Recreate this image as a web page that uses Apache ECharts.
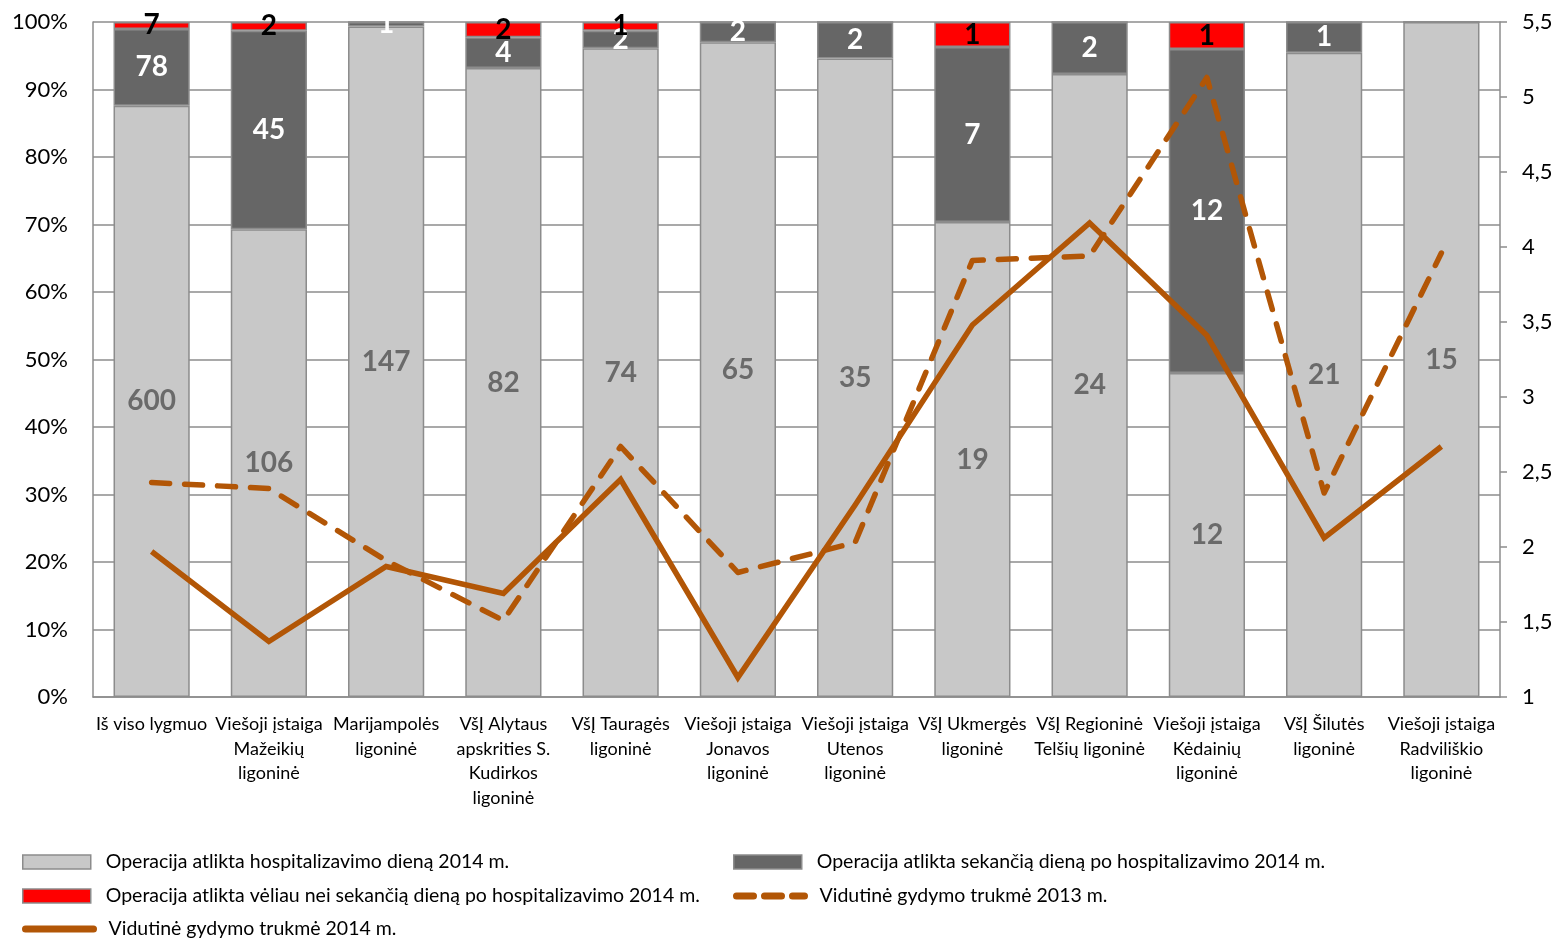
<!DOCTYPE html>
<html>
<head>
<meta charset="utf-8">
<script src="https://cdn.jsdelivr.net/npm/echarts@6/dist/echarts.min.js"></script>
<style>
  html, body { margin: 0; padding: 0; background: #fff; }
  #chart { width: 1560px; height: 938px; }
</style>
</head>
<body>
<div id="chart"></div>
<script>
const categories = [
  "Iš viso lygmuo",
  "Viešoji įstaiga\nMažeikių\nligoninė",
  "Marijampolės\nligoninė",
  "VšĮ Alytaus\napskrities S.\nKudirkos\nligoninė",
  "VšĮ Tauragės\nligoninė",
  "Viešoji įstaiga\nJonavos\nligoninė",
  "Viešoji įstaiga\nUtenos\nligoninė",
  "VšĮ Ukmergės\nligoninė",
  "VšĮ Regioninė\nTelšių ligoninė",
  "Viešoji įstaiga\nKėdainių\nligoninė",
  "VšĮ Šilutės\nligoninė",
  "Viešoji įstaiga\nRadviliškio\nligoninė"
];
// operation counts 2014
const sameDay = [600, 106, 147, 82, 74, 65, 35, 19, 24, 12, 21, 15];
const nextDay = [78, 45, 1, 4, 2, 2, 2, 7, 2, 12, 1, 0];
const later = [7, 2, 0, 2, 1, 0, 0, 1, 0, 1, 0, 0];
// average length of stay
const stay2014 = [1.97, 1.37, 1.87, 1.69, 2.45, 1.13, 2.28, 3.48, 4.16, 3.41, 2.06, 2.67];
const stay2013 = [2.43, 2.39, 1.91, 1.51, 2.67, 1.83, 2.03, 3.91, 3.94, 5.13, 2.36, 3.96];

const names = [
  "Operacija atlikta hospitalizavimo dieną 2014 m.",
  "Operacija atlikta sekančią dieną po hospitalizavimo 2014 m.",
  "Operacija atlikta vėliau nei sekančią dieną po hospitalizavimo 2014 m.",
  "Vidutinė gydymo trukmė 2013 m.",
  "Vidutinė gydymo trukmė 2014 m."
];

const FONT = "Lato";
const LINE_COLOR = "#b25606";
const BORDER = "#8c8c8c";

const totals = sameDay.map((v, i) => v + nextDay[i] + later[i]);
const pct = (arr) => arr.map((v, i) => (v / totals[i]) * 100);

function barSeries(name, counts, color, labelColor) {
  return {
    name: name,
    type: "bar",
    stack: "ops",
    yAxisIndex: 0,
    barCategoryGap: "35%",
    data: pct(counts),
    itemStyle: { color: color, borderColor: BORDER, borderWidth: 1.5 },
    label: {
      show: true,
      position: "inside",
      offset: [0, 2],
      fontFamily: FONT,
      fontWeight: "bold",
      fontSize: 28,
      color: labelColor,
      formatter: (p) => (counts[p.dataIndex] > 0 ? String(counts[p.dataIndex]) : "")
    },
    labelLayout: { hideOverlap: false },
    emphasis: { disabled: true },
    z: 2
  };
}

// one legend per entry so the two columns line up like the original
function legendItem(item, left, centerY) {
  return {
    left: left,
    top: centerY - 9,
    padding: 0,
    itemWidth: 68,
    itemHeight: 14,
    textStyle: { fontSize: 19.5, color: "#000", fontFamily: FONT, padding: [0, 0, 0, 10] },
    data: [item]
  };
}
const hiddenDot = { color: "rgba(0,0,0,0)", borderWidth: 0, opacity: 0 };

const chart = echarts.init(document.getElementById("chart"));
chart.setOption({
  animation: false,
  textStyle: { fontFamily: FONT },
  grid: { left: 93, right: 60, top: 22, bottom: 241, containLabel: false },
  legend: [
    legendItem({ name: names[0], icon: "rect", itemStyle: { borderColor: BORDER, borderWidth: 1.5 } }, 22, 861),
    legendItem({ name: names[1], icon: "rect", itemStyle: { borderColor: BORDER, borderWidth: 1.5 } }, 733, 861),
    legendItem({ name: names[2], icon: "rect", itemStyle: { borderColor: BORDER, borderWidth: 1.5 } }, 22, 895),
    legendItem({ name: names[3], itemStyle: hiddenDot, lineStyle: { width: 7, cap: "round", type: [17, 11] } }, 733, 895),
    legendItem({ name: names[4], itemStyle: hiddenDot, lineStyle: { width: 7, cap: "round" } }, 22, 928)
  ],
  xAxis: {
    type: "category",
    data: categories,
    axisLine: { show: true, lineStyle: { color: BORDER, width: 1.5 } },
    axisTick: { show: false },
    axisLabel: {
      interval: 0,
      fontSize: 18,
      lineHeight: 24.5,
      color: "#000",
      fontFamily: FONT,
      margin: 15
    }
  },
  yAxis: [
    {
      type: "value",
      min: 0,
      max: 100,
      interval: 10,
      axisLine: { show: true, lineStyle: { color: BORDER, width: 1.5 } },
      axisTick: { show: false },
      splitLine: { show: true, lineStyle: { color: BORDER, width: 1.5 } },
      axisLabel: { formatter: "{value}%", fontSize: 22, color: "#000", fontFamily: FONT, margin: 25 }
    },
    {
      type: "value",
      position: "right",
      min: 1,
      max: 5.5,
      interval: 0.5,
      axisLine: { show: true, lineStyle: { color: BORDER, width: 1.5 } },
      axisTick: { show: true, inside: false, length: 7, lineStyle: { color: BORDER, width: 1.5 } },
      splitLine: { show: false },
      axisLabel: {
        formatter: (v) => String(v).replace(".", ","),
        fontSize: 22,
        color: "#000",
        fontFamily: FONT,
        margin: 22
      }
    }
  ],
  series: [
    barSeries(names[0], sameDay, "#c8c8c8", "#6a6a6a"),
    barSeries(names[1], nextDay, "#666666", "#ffffff"),
    barSeries(names[2], later, "#ff0000", "#000000"),
    {
      name: names[3],
      type: "line",
      yAxisIndex: 1,
      data: stay2013,
      symbol: "none",
      itemStyle: { color: LINE_COLOR },
      lineStyle: { color: LINE_COLOR, width: 5.5, type: [18, 15], cap: "round", join: "round" },
      emphasis: { disabled: true },
      z: 5
    },
    {
      name: names[4],
      type: "line",
      yAxisIndex: 1,
      data: stay2014,
      symbol: "none",
      itemStyle: { color: LINE_COLOR },
      lineStyle: { color: LINE_COLOR, width: 5.5, join: "miter" },
      emphasis: { disabled: true },
      z: 5
    }
  ]
});
</script>
</body>
</html>
